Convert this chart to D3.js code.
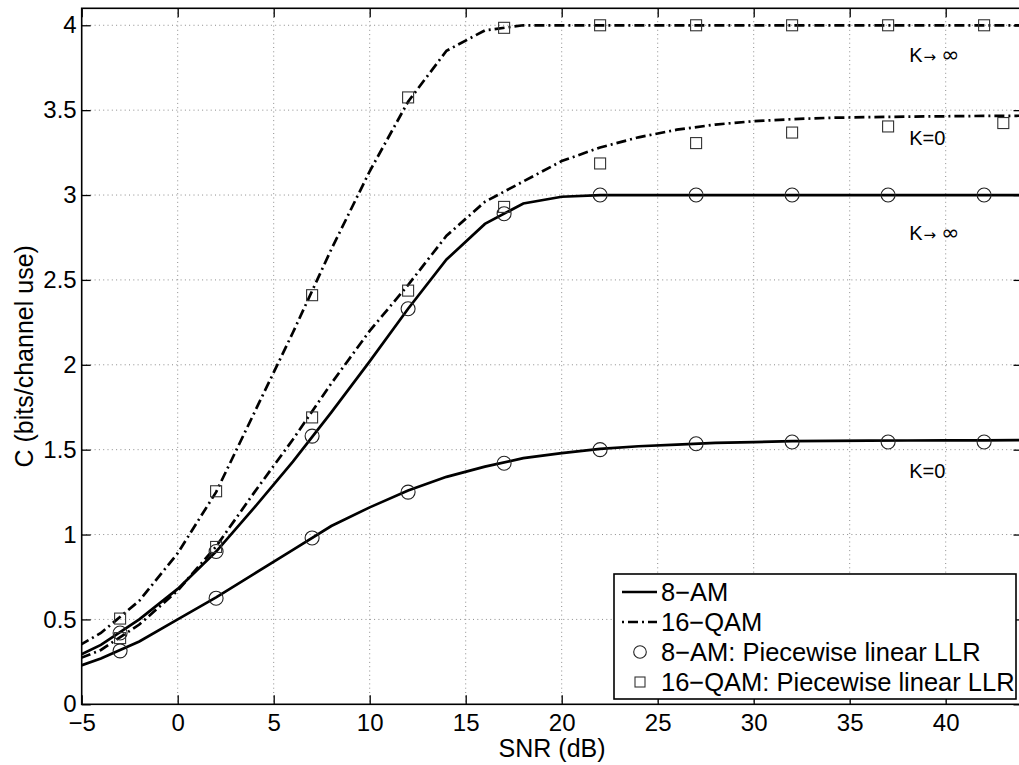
<!DOCTYPE html>
<html>
<head>
<meta charset="utf-8">
<script src="https://cdn.jsdelivr.net/npm/d3@7"></script>
<style>
  body { margin: 0; background: #fff; }
  svg { display: block; font-family: "Liberation Sans", Arial, Helvetica, sans-serif; }
</style>
</head>
<body>
<div id="chart"></div>
<script>
// capacity curves, sampled every 2 dB
const SNR = [-6, -4, -2, 0, 2, 4, 6, 8, 10, 12, 14, 16, 18, 20, 22, 24, 26, 28, 30, 32, 34, 36, 38, 40, 42, 44];
const AM8_INF = [0.24, 0.35, 0.50, 0.68, 0.90, 1.16, 1.43, 1.72, 2.02, 2.33, 2.62, 2.83, 2.95, 2.99, 3.0, 3.0, 3.0, 3.0, 3.0, 3.0, 3.0, 3.0, 3.0, 3.0, 3.0, 3.0];
const AM8_ZERO = [0.19, 0.27, 0.37, 0.50, 0.63, 0.77, 0.91, 1.05, 1.16, 1.26, 1.34, 1.40, 1.45, 1.48, 1.505, 1.52, 1.53, 1.54, 1.545, 1.55, 1.552, 1.553, 1.554, 1.555, 1.555, 1.556];
const QAM16_INF = [0.29, 0.42, 0.61, 0.89, 1.25, 1.72, 2.19, 2.68, 3.14, 3.55, 3.85, 3.97, 4.0, 4.0, 4.0, 4.0, 4.0, 4.0, 4.0, 4.0, 4.0, 4.0, 4.0, 4.0, 4.0, 4.0];
const QAM16_ZERO = [0.23, 0.32, 0.47, 0.67, 0.93, 1.25, 1.56, 1.89, 2.20, 2.47, 2.76, 2.96, 3.08, 3.20, 3.28, 3.34, 3.385, 3.415, 3.435, 3.447, 3.455, 3.459, 3.462, 3.464, 3.466, 3.467];

// piecewise linear LLR points
const MARK_SNR = [-3, 2, 7, 12, 17, 22, 27, 32, 37, 42];
const AM8_INF_PWL = [0.42, 0.90, 1.58, 2.33, 2.89, 3.0, 3.0, 3.0, 3.0, 3.0];
const AM8_ZERO_PWL = [0.315, 0.625, 0.98, 1.25, 1.42, 1.50, 1.535, 1.545, 1.545, 1.545];
const QAM16_INF_PWL = [0.505, 1.255, 2.41, 3.575, 3.985, 4.0, 4.0, 4.0, 4.0, 4.0];
const QAM16_ZERO_SNR = [-3, 2, 7, 12, 17, 22, 27, 32, 37, 43];
const QAM16_ZERO_PWL = [0.39, 0.927, 1.69, 2.437, 2.93, 3.186, 3.306, 3.368, 3.404, 3.424];

const X_TICKS = [-5, 0, 5, 10, 15, 20, 25, 30, 35, 40];
const Y_TICKS = [0, 0.5, 1, 1.5, 2, 2.5, 3, 3.5, 4];
const LEGEND_LABELS = ["8\u2212AM", "16\u2212QAM", "8\u2212AM: Piecewise linear LLR", "16\u2212QAM: Piecewise linear LLR"];
const NOTES = [
  {snr: 38.1, c: 3.825, k: "inf"},
  {snr: 38.1, c: 3.337, k: "0"},
  {snr: 38.1, c: 2.778, k: "inf"},
  {snr: 38.1, c: 1.378, k: "0"}
];

const FRAME_WIDTH = 1019;
const FRAME_HEIGHT = 765;
const MARGINS = {left: 81.7, right: 1022.5, top: 8.3, bottom: 704.3};

const svg = d3.select("#chart")
  .append("svg")
    .attr("width", FRAME_WIDTH)
    .attr("height", FRAME_HEIGHT);

const X_SCALE = d3.scaleLinear().domain([-5, 44]).range([MARGINS.left, MARGINS.right]);
const Y_SCALE = d3.scaleLinear().domain([0, 4.1]).range([MARGINS.bottom, MARGINS.top]);

svg.append("clipPath").attr("id", "plotclip")
  .append("rect")
    .attr("x", MARGINS.left).attr("y", MARGINS.top)
    .attr("width", MARGINS.right - MARGINS.left)
    .attr("height", MARGINS.bottom - MARGINS.top);

// dotted grid
const grid = svg.append("g").attr("stroke", "#8c8c8c").attr("stroke-width", 1).attr("stroke-dasharray", "1,3.3");
grid.selectAll(".gx").data(X_TICKS.slice(1)).enter().append("line")
  .attr("x1", d => X_SCALE(d)).attr("x2", d => X_SCALE(d))
  .attr("y1", MARGINS.top).attr("y2", MARGINS.bottom);
grid.selectAll(".gy").data(Y_TICKS.slice(1)).enter().append("line")
  .attr("y1", d => Y_SCALE(d)).attr("y2", d => Y_SCALE(d))
  .attr("x1", MARGINS.left).attr("x2", MARGINS.right);

// curves
const plot = svg.append("g").attr("clip-path", "url(#plotclip)");
const line = d3.line().x(d => X_SCALE(d[0])).y(d => Y_SCALE(d[1]));
const DASHDOT = "10,4,2,4";

const curves = [
  {y: AM8_INF, dash: null},
  {y: AM8_ZERO, dash: null},
  {y: QAM16_INF, dash: DASHDOT},
  {y: QAM16_ZERO, dash: DASHDOT}
];
curves.forEach(c => {
  plot.append("path")
    .datum(SNR.map((s, i) => [s, c.y[i]]))
    .attr("d", line)
    .attr("fill", "none")
    .attr("stroke", "#000")
    .attr("stroke-width", 2.7)
    .attr("stroke-dasharray", c.dash);
});

// markers
function circles(xs, ys) {
  plot.selectAll(null).data(xs.map((s, i) => [s, ys[i]])).enter().append("circle")
    .attr("cx", d => X_SCALE(d[0])).attr("cy", d => Y_SCALE(d[1]))
    .attr("r", 7)
    .attr("fill", "none").attr("stroke", "#222").attr("stroke-width", 1.1);
}
function squares(xs, ys) {
  plot.selectAll(null).data(xs.map((s, i) => [s, ys[i]])).enter().append("rect")
    .attr("x", d => X_SCALE(d[0]) - 5.5).attr("y", d => Y_SCALE(d[1]) - 5.5)
    .attr("width", 11).attr("height", 11)
    .attr("fill", "none").attr("stroke", "#333").attr("stroke-width", 1.1);
}
circles(MARK_SNR, AM8_INF_PWL);
circles(MARK_SNR, AM8_ZERO_PWL);
squares(MARK_SNR, QAM16_INF_PWL);
squares(QAM16_ZERO_SNR, QAM16_ZERO_PWL);

// annotations: K→ ∞ and K=0
const notes = svg.selectAll(".note").data(NOTES).enter().append("text")
  .attr("x", d => X_SCALE(d.snr))
  .attr("y", d => Y_SCALE(d.c))
  .attr("dy", "0.36em")
  .attr("font-size", 20)
  .attr("fill", "#000");
notes.append("tspan").text("K");
notes.filter(d => d.k === "0").append("tspan").text("=0");
notes.filter(d => d.k === "inf").append("tspan")
  .attr("font-family", "DejaVu Sans").attr("font-size", 15).attr("dx", 1)
  .text("\u2192");
notes.filter(d => d.k === "inf").append("tspan")
  .attr("font-family", "DejaVu Sans").attr("font-size", 22).attr("dx", 5)
  .text("\u221e");

// axes with inward ticks
const TICK = 9;
const xAxis = svg.append("g").attr("transform", `translate(0,${MARGINS.bottom})`)
  .call(d3.axisBottom(X_SCALE).tickValues(X_TICKS).tickSizeInner(-TICK).tickSizeOuter(0).tickPadding(10));
const xTop = svg.append("g").attr("transform", `translate(0,${MARGINS.top})`)
  .call(d3.axisTop(X_SCALE).tickValues(X_TICKS).tickSizeInner(-TICK).tickSizeOuter(0).tickFormat(""));
const yAxis = svg.append("g").attr("transform", `translate(${MARGINS.left},0)`)
  .call(d3.axisLeft(Y_SCALE).tickValues(Y_TICKS).tickSizeInner(-TICK).tickSizeOuter(0).tickPadding(5).tickFormat(d => String(d)));
const yRight = svg.append("g").attr("transform", `translate(${MARGINS.right},0)`)
  .call(d3.axisRight(Y_SCALE).tickValues(Y_TICKS).tickSizeInner(-TICK).tickSizeOuter(0).tickFormat(""));

[xAxis, xTop, yAxis, yRight].forEach(a => {
  a.select(".domain").remove();
  a.selectAll(".tick line").attr("stroke", "#000").attr("stroke-width", 1.3);
  a.selectAll("text").attr("font-size", 24).attr("fill", "#000").attr("font-family", null);
});

// box
svg.append("rect")
  .attr("x", MARGINS.left).attr("y", MARGINS.top)
  .attr("width", MARGINS.right - MARGINS.left)
  .attr("height", MARGINS.bottom - MARGINS.top)
  .attr("fill", "none").attr("stroke", "#000").attr("stroke-width", 1.6);

// axis titles
svg.append("text")
  .attr("x", (MARGINS.left + MARGINS.right) / 2)
  .attr("y", 757)
  .attr("text-anchor", "middle")
  .attr("font-size", 25)
  .text("SNR (dB)");
svg.append("text")
  .attr("transform", `translate(33,${(MARGINS.top + MARGINS.bottom) / 2}) rotate(-90)`)
  .attr("text-anchor", "middle")
  .attr("font-size", 25)
  .text("C (bits/channel use)");

// legend
const LEG = {x: 614, y: 574, w: 402, h: 125, row: 30};
const legend = svg.append("g");
legend.append("rect")
  .attr("x", LEG.x).attr("y", LEG.y).attr("width", LEG.w).attr("height", LEG.h)
  .attr("fill", "#fff").attr("stroke", "#000").attr("stroke-width", 1.6);
const rows = legend.selectAll(".row").data(LEGEND_LABELS).enter().append("g")
  .attr("transform", (d, i) => `translate(${LEG.x},${LEG.y + 18 + i * LEG.row})`);
rows.append("text")
  .attr("x", 47).attr("dy", "0.35em")
  .attr("font-size", 25.5)
  .text(d => d);
rows.filter((d, i) => i < 2).append("line")
  .attr("x1", 8).attr("x2", 43)
  .attr("stroke", "#000").attr("stroke-width", 2.7)
  .attr("stroke-dasharray", (d, i) => i === 1 ? "2,4,10,4,2,4,10" : null);
rows.filter((d, i) => i === 2).append("circle")
  .attr("cx", 26).attr("r", 6.3)
  .attr("fill", "none").attr("stroke", "#222").attr("stroke-width", 1.1);
rows.filter((d, i) => i === 3).append("rect")
  .attr("x", 21).attr("y", -5).attr("width", 10).attr("height", 10)
  .attr("fill", "none").attr("stroke", "#333").attr("stroke-width", 1.1);
</script>
</body>
</html>
